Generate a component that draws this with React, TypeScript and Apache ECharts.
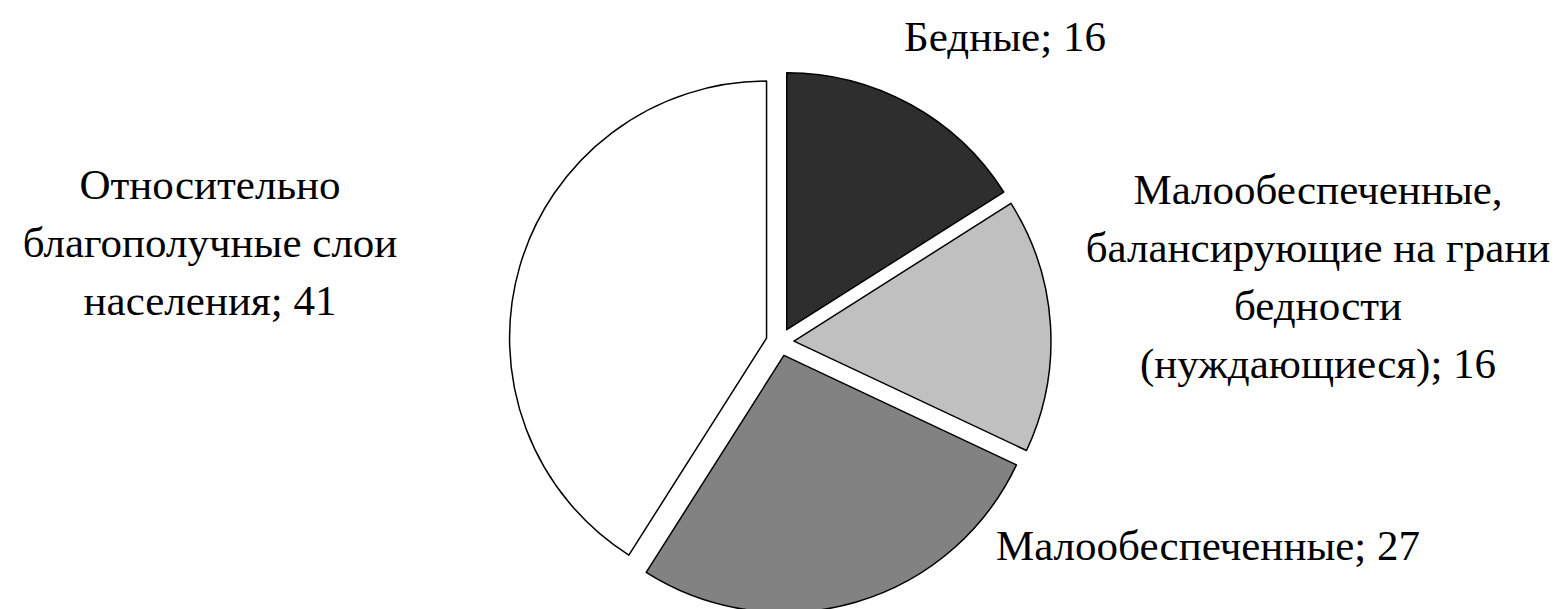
import React, { useEffect, useRef } from "react";
import * as echarts from "echarts";

const categories = [
  "Бедные",
  "Малообеспеченные,\nбалансирующие на грани\nбедности\n(нуждающиеся)",
  "Малообеспеченные",
  "Относительно\nблагополучные слои\nнаселения",
];
const values = [16, 16, 27, 41];
const colors = ["#2e2e2e", "#c0c0c0", "#828282", "#ffffff"];
// label anchor points (centre of each text block)
const labelX = [1005, 1318, 1208, 210];
const labelY = [36, 276, 545, 242];

export default function App() {
  const ref = useRef<HTMLDivElement>(null);
  useEffect(() => {
    if (!ref.current) return;
    const chart = echarts.init(ref.current, undefined, { renderer: "svg" });
    chart.setOption({
      animation: false,
      backgroundColor: "#ffffff",
      graphic: categories.map((c, i) => ({
        type: "text",
        x: labelX[i],
        y: labelY[i],
        style: {
          text: `${c}; ${values[i]}`,
          fill: "#000",
          font: "43px 'Liberation Serif', 'Times New Roman', serif",
          lineHeight: 58,
          align: "center",
          verticalAlign: "middle",
        },
      })),
      series: [
        {
          type: "pie",
          center: [780, 342],
          radius: 257,
          startAngle: 90,
          clockwise: true,
          selectedMode: "multiple",
          selectedOffset: 14,
          itemStyle: { borderColor: "#000", borderWidth: 1.5 },
          label: { show: false },
          labelLine: { show: false },
          emphasis: { disabled: true },
          data: categories.map((c, i) => ({
            name: c,
            value: values[i],
            selected: true,
            itemStyle: { color: colors[i] },
          })),
        },
      ],
    });
    return () => chart.dispose();
  }, []);
  return (
    <div
      ref={ref}
      style={{ position: "fixed", left: 0, top: 0, width: 1556, height: 609 }}
    />
  );
}
